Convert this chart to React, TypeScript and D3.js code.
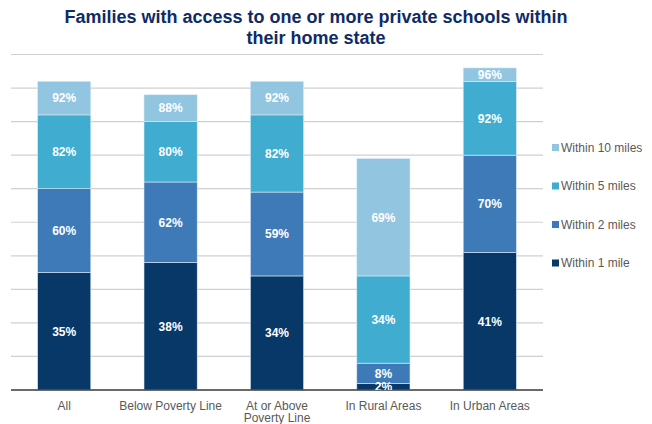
import React from "react";
import * as d3 from "d3";

const categories: string[][] = [
  ["All"],
  ["Below Poverty Line"],
  ["At or Above", "Poverty Line"],
  ["In Rural Areas"],
  ["In Urban Areas"],
];
const within1 = [35, 38, 34, 2, 41];
const within2 = [60, 62, 59, 8, 70];
const within5 = [82, 80, 82, 34, 92];
const within10 = [92, 88, 92, 69, 96];
const seriesNames = ["Within 1 mile", "Within 2 miles", "Within 5 miles", "Within 10 miles"];
const seriesColors = ["#073868", "#3F7AB8", "#40ACD0", "#92C5DF"];
const yTicks = [0, 10, 20, 30, 40, 50, 60, 70, 80, 90, 100];
const title = ["Families with access to one or more private schools within", "their home state"];

export default function App() {
  const W = 652, H = 424;
  const x0 = 11, x1 = 543, yTop = 54.5, yBase = 390;
  const series = [within1, within2, within5, within10];
  const x = d3.scaleBand<number>().domain(categories.map((_, i) => i)).range([x0, x1]).paddingInner(0.5).paddingOuter(0.25);
  const y = d3.scaleLinear().domain([0, 100]).range([yBase, yTop]);
  const font = "'Liberation Sans', Arial, sans-serif";

  return (
    <svg width={W} height={H} style={{ position: "absolute", left: 0, top: 0, background: "#fff" }} fontFamily={font}>
      <defs>
        <clipPath id="plotclip">
          <rect x={0} y={0} width={W} height={yBase} />
        </clipPath>
      </defs>
      {title.map((t, i) => (
        <text key={i} x={316} y={23 + i * 21} textAnchor="middle" fontSize={18} fontWeight="bold" fill="#0E2B65">{t}</text>
      ))}
      {yTicks.map((t) => (
        <line key={t} x1={x0} x2={x1} y1={y(t)} y2={y(t)} stroke="#D0D0D0" strokeWidth={1.2} />
      ))}
      {categories.map((_, ci) => {
        const bx = x(ci)!;
        const bw = x.bandwidth();
        return (
          <g key={ci}>
            {series.map((s, si) => {
              const lo = si === 0 ? 0 : series[si - 1][ci];
              const hi = s[ci];
              return (
                <rect key={si} x={bx} y={y(hi)} width={bw} height={y(lo) - y(hi)} fill={seriesColors[si]} stroke="#DCEBF5" strokeWidth={0.6} />
              );
            })}
          </g>
        );
      })}
      <line x1={x0} x2={x1} y1={yBase} y2={yBase} stroke="#404040" strokeWidth={1.3} />
      <g clipPath="url(#plotclip)">
        {categories.map((_, ci) => {
          const cx = x(ci)! + x.bandwidth() / 2;
          return series.map((s, si) => {
            const lo = si === 0 ? 0 : series[si - 1][ci];
            const hi = s[ci];
            const cy = (y(lo) + y(hi)) / 2;
            return (
              <text key={`${ci}-${si}`} x={cx} y={cy + 4.3} textAnchor="middle" fontSize={12} fontWeight="bold" fill="#fff">{hi}%</text>
            );
          });
        })}
      </g>
      {categories.map((lines, ci) => {
        const cx = x(ci)! + x.bandwidth() / 2;
        return lines.map((l, li) => (
          <text key={`${ci}-${li}`} x={cx} y={409.5 + li * 12.5} textAnchor="middle" fontSize={12} fill="#595959">{l}</text>
        ));
      })}
      {seriesNames.map((n, si) => {
        const ly = 263 - si * 38.5;
        return (
          <g key={n}>
            <rect x={552} y={ly - 3.5} width={7} height={7} fill={seriesColors[si]} />
            <text x={561} y={ly + 4.2} fontSize={12} fill="#595959">{n}</text>
          </g>
        );
      })}
    </svg>
  );
}
